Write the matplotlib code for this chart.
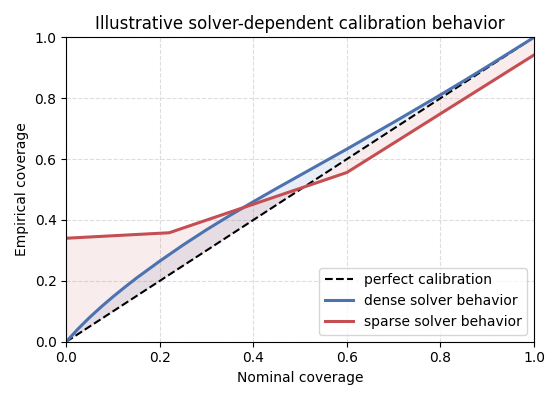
import numpy as np
import matplotlib.pyplot as plt

# nominal vs empirical coverage
diag_x = [0.0, 1.0]
dense_x = [0.0, 0.025, 0.05, 0.075, 0.1, 0.125, 0.15, 0.2, 0.25, 0.3, 0.35, 0.4,
           0.45, 0.5, 0.55, 0.6, 0.65, 0.7, 0.75, 0.8, 0.85, 0.9, 0.95, 1.0]
dense_y = [0.0, 0.042, 0.080, 0.115, 0.148, 0.179, 0.209, 0.265, 0.318, 0.368,
           0.415, 0.460, 0.504, 0.547, 0.590, 0.633, 0.677, 0.721, 0.766, 0.811,
           0.857, 0.904, 0.952, 1.0]
sparse_x = [0.0, 0.22, 0.6, 1.0]
sparse_y = [0.34, 0.358, 0.556, 0.942]

blue = '#4C72B0'
red = '#C44E52'

fig, ax = plt.subplots(figsize=(5.6, 4), dpi=100)

dx = np.array(dense_x)
sx = np.array(sparse_x)
ax.fill_between(dx, dx, dense_y, color=blue, alpha=0.12, lw=0)
ax.fill_between(sx, sx, sparse_y, color=red, alpha=0.1, lw=0)

ax.plot(diag_x, diag_x, '--', color='black', lw=1.5, label='perfect calibration')
ax.plot(dense_x, dense_y, color=blue, lw=2.2, label='dense solver behavior')
ax.plot(sparse_x, sparse_y, color=red, lw=2.2, label='sparse solver behavior')

ax.set_xlim(0, 1)
ax.set_ylim(0, 1)
ax.grid(True, ls='--', color='#dddddd', lw=0.8)
ax.set_axisbelow(True)
ax.set_xlabel('Nominal coverage')
ax.set_ylabel('Empirical coverage')
ax.set_title('Illustrative solver-dependent calibration behavior')
ax.legend(loc='lower right')

fig.tight_layout()
fig.savefig('out.png')
